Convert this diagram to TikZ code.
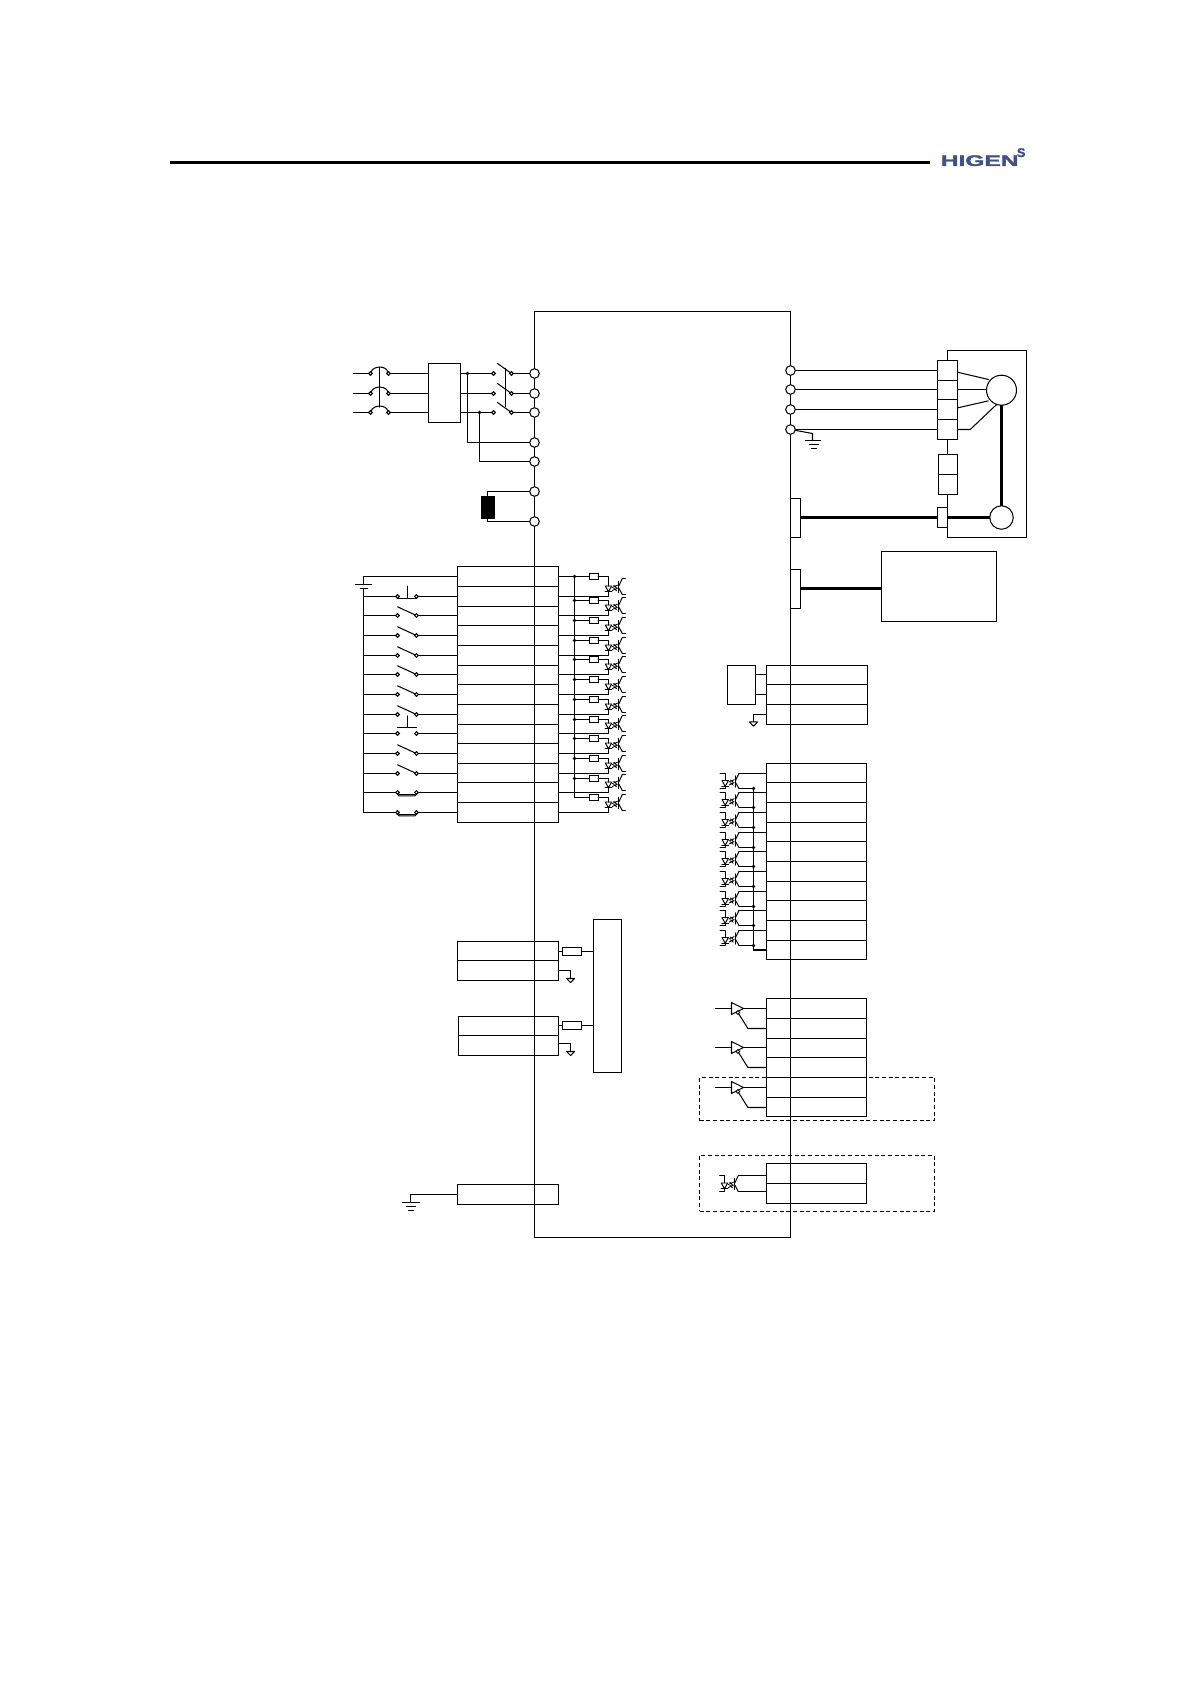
\documentclass[tikz,border=0pt]{standalone}
\usepackage{fontspec}
\setmainfont{Liberation Sans}
\newfontfamily\logofont[FakeBold=1.6]{Liberation Sans}
\definecolor{logoblue}{HTML}{3E5288}
\tikzset{
  wire/.style={line width=0.78pt,line cap=round,line join=round},
  fat/.style={line width=2.3pt},
  cellbox/.style={draw,line width=0.78pt,inner sep=0pt,outer sep=0pt,rectangle},
  term/.style={draw,fill=white,circle,line width=0.78pt,inner sep=0pt,outer sep=0pt,minimum size=7.2pt},
  contact/.style={draw,fill=white,circle,line width=0.7pt,inner sep=0pt,outer sep=0pt,minimum size=2.8pt},
  jdot/.style={fill=black,circle,inner sep=0pt,outer sep=0pt,minimum size=2.7pt},
  res/.style={draw,fill=white,rectangle,line width=0.78pt,inner sep=0pt,outer sep=0pt,minimum width=6.5pt,minimum height=4.5pt},
  lres/.style={draw,fill=white,rectangle,line width=0.78pt,inner sep=0pt,outer sep=0pt,minimum width=14.4pt,minimum height=5.6pt},
  dashbox/.style={draw,dashed,dash pattern=on 3pt off 2pt,line width=0.7pt,inner sep=0pt,outer sep=0pt,rectangle},
}
% [options]{name}{x1}{y1}{x2}{y2}
\newcommand\cell[6][]{%
  \pgfmathsetmacro\cw{(#5-#3)*0.75}%
  \pgfmathsetmacro\ch{(#6-#4)*0.75}%
  \pgfmathsetmacro\cx{(#3+#5)/2}%
  \pgfmathsetmacro\cy{(#4+#6)/2}%
  \node[cellbox,minimum width=\cw pt,minimum height=\ch pt,#1] (#2) at (\cx,\cy) {};}
% [options]{prefix}{x1}{x2}{first y}{list of lower edges}
\newcommand\stackcells[6][]{%
  \foreach \yb [remember=\yb as \ya (initially #5),count=\nn] in {#6} {%
    \cell[#1]{#2\nn}{#3}{\ya}{#4}{\yb}}}
% optocoupler: {name}{LED x}{centre y}{half height}
\newcommand\opto[4]{%
  \begin{scope}[shift={(#2,#3)}]
    \coordinate (#1-a) at (0,-0.5);
    \coordinate (#1-k) at (0,5.3);
    \coordinate (#1-c) at (13.8,-#4);
    \coordinate (#1-e) at (13.8,#4);
    \draw[wire,line width=0.72pt] (-3.2,-0.5) -- (3.2,-0.5) -- (0,5.3) -- cycle;
    \draw[wire,line width=0.72pt] (-3.4,5.3) -- (3.4,5.3);
    \draw[wire,line width=0.62pt] (3.9,1) -- (9,-1.4) (3.9,4) -- (9,1.6) (5.2,-1.2) -- (8,1.4) (5.2,1.8) -- (8,4.2);
    \draw[wire,line width=0.85pt] (10.3,-5) -- (10.3,6);
    \draw[wire,line width=0.72pt] (10.3,-0.5) -- (#1-c) (10.3,1.5) -- (#1-e);
  \end{scope}}
% buffer amplifier: {name}{x}{y}
\newcommand\amp[3]{%
  \begin{scope}[shift={(#2,#3)}]
    \coordinate (#1-in) at (0,0);
    \coordinate (#1-out) at (12,0);
    \coordinate (#1-src) at (-16,0);
    \coordinate (#1-ref) at (6.4,4);
    \coordinate (#1-bend) at (16.4,20);
    \draw[wire,fill=white] (0,-6) -- (12,0) -- (0,6) -- cycle;
  \end{scope}}
\begin{document}
\begin{tikzpicture}[x=0.75pt,y=-0.75pt]
\useasboundingbox (0,0) rectangle (1190,1684);
\fill[white] (0,0) rectangle (1190,1684);
\begin{scope}[shift={(0.2,0.2)}]
% header
\coordinate (ruleA) at (170,162.3);
\coordinate (ruleB) at (930,162.3);
\draw[line width=2.2pt] (ruleA) -- (ruleB);
\node[text=logoblue,font=\bfseries\logofont\fontsize{11.5}{12}\selectfont,inner sep=0pt] (logo) at (979.5,160.5) {\scalebox{1.6}[1]{HIGEN}};
\node[text=logoblue,font=\bfseries\logofont\fontsize{9.5}{10}\selectfont,inner sep=0pt] (logos) at (1021,152.5) {S};
% inverter outline
\cell{main}{534.3}{311.3}{790.3}{1237.3}
% ---- mains input ----
\cell{filter}{428.3}{363.3}{460.3}{422.3}
\foreach \n/\y in {1/373.3,2/393.3,3/412.3}{
  \coordinate (in\n) at (353.3,\y);
  \node[term] (TR\n) at (534.3,\y) {};
  \coordinate (FL\n) at (428.3,\y);
  \coordinate (FR\n) at (460.3,\y);
  \coordinate (ms\n) at (497.3,\y-10);
  \draw[wire] (in\n) -- ++(17,0);
  \node[contact] (BA\n) at (370.3,\y) {};
  \node[contact] (BB\n) at (388.3,\y) {};
  \node[contact] (MA\n) at (493.3,\y) {};
  \node[contact] (MB\n) at (511.3,\y) {};
  \draw[wire] (BB\n) -- (FL\n) (FR\n) -- (MA\n) (MB\n) -- (TR\n);
  \draw[wire] (BA\n) .. controls (373.5,\y-8) and (385.5,\y-8) .. (BB\n);
  \draw[wire] (ms\n) -- (MB\n);
}
\draw[wire] (379.3,367) -- (379.3,407);
\draw[wire] (505.3,368) -- (505.3,406.3);
\node[term] (TS) at (534.3,442.3) {};
\node[term] (TT) at (534.3,461.3) {};
\node[jdot] (ja) at (467.3,373.3) {};
\node[jdot] (jb) at (479.3,412.3) {};
\draw[wire] (ja) |- (TS);
\draw[wire] (jb) |- (TT);
% ---- DC reactor ----
\node[term] (TP) at (534.3,491.3) {};
\node[term] (TN) at (534.3,521.3) {};
\node[draw,fill=black,rectangle,inner sep=0pt,minimum width=9.8pt,minimum height=16.2pt] (reactor) at (487.3,506.8) {};
\draw[wire] (TP) -| (reactor.north);
\draw[wire] (TN) -| (reactor.south);
% ---- motor ----
\cell{motorbox}{947.3}{350.3}{1026.3}{537.3}
\stackcells[fill=white]{MS}{937.3}{957.3}{360.3}{380.3,399.3,419.3,439.3}
\stackcells[fill=white]{TH}{938.3}{957.3}{454.3}{474.3,494.3}
\cell[fill=white]{encT}{937.3}{507.3}{947.3}{527.3}
\node[draw,circle,fill=white,line width=0.78pt,inner sep=0pt,outer sep=0pt,minimum size=22.5pt] (motor) at (1001.3,390) {};
\node[draw,circle,fill=white,line width=0.78pt,inner sep=0pt,outer sep=0pt,minimum size=17.6pt] (encoder) at (1001.3,517.3) {};
\foreach \n/\y in {1/370.3,2/389.3,3/409.3,4/429.3}{
  \node[term] (TU\n) at (790.3,\y) {};
  \coordinate (mi\n) at (937.3,\y);
  \draw[wire] (TU\n) -- (mi\n);
}
\draw[wire] (957.3,372) -- (988.3,379.3);
\draw[wire] (957.3,389.3) -- (986.7,389.3);
\draw[wire] (957.3,407.7) -- (988,400.7);
\draw[wire] (957.3,429.3) -- (970,429.3) -- (996.7,404);
\draw[fat] (motor.south) -- (encoder.north);
% earth at U-terminal
\coordinate (ge) at (812.3,440);
\draw[wire] (TU4) -- (812.3,433.3) -- (ge);
\draw[wire] (805.3,440) -- (820.3,440) (809.3,444.3) -- (818.3,444.3) (811.3,448.3) -- (816.3,448.3);
% encoder and keypad connectors
\cell{conA}{790.3}{498.3}{800.3}{537.3}
\cell{conB}{790.3}{569.3}{800.3}{608.3}
\cell{keypad}{881.3}{551.3}{996.3}{621.3}
\coordinate (kp) at (881.3,588.3);
\draw[fat] (conA.east |- encT.west) -- (encT.west);
\draw[fat] (encT.east) -- (encoder.west);
\draw[fat] (conB.east |- kp) -- (kp);
% ---- digital inputs ----
\stackcells{L}{457.3}{558.3}{566.3}{586.3,606.3,625.3,645.3,665.3,684.3,704.3,724.3,743.3,763.3,782.3,802.3,822.3}
\coordinate (batT) at (363.3,584.3);
\coordinate (batB) at (363.3,588.3);
\draw[wire] (L1.west) -| (batT);
\draw[wire] (355.3,584.3) -- (371.3,584.3) (360.3,588.3) -- (367.3,588.3);
\draw[wire] (batB) -- (363.3,812.3);
\foreach \k/\y in {2/596.3,3/615.3,4/635.3,5/655.3,6/674.3,7/694.3,8/714.3,9/733.3,10/753.3,11/773.3,12/792.3,13/812.3}{
  \coordinate (bus\k) at (363.3,\y);
  \node[contact] (SA\k) at (397.3,\y) {};
  \node[contact] (SB\k) at (416.3,\y) {};
  \draw[wire] (bus\k) -- (SA\k) (SB\k) -- (SB\k -| L\k.west);
}
\foreach \k/\y in {3/615.3,4/635.3,5/655.3,6/674.3,7/694.3,8/714.3,10/753.3,11/773.3}{
  \draw[wire] (397.3,\y-8.7) -- (SB\k);
}
\draw[wire] (397.3,598.3) -- (416.3,598.3) (407.3,598.3) -- (407.3,586);
\draw[wire] (397.3,727.3) -- (416.3,727.3) (407.3,727.3) -- (407.3,715.7);
\foreach \y in {792.3,812.3}{
  \draw[wire] (397.3,\y+1) -- (398.8,\y+3.4) -- (414.8,\y+3.4) -- (416.3,\y+1);
  \draw[wire,line width=0.5pt] (399,\y+2) -- (414.6,\y+2);
}
% input optocouplers
\foreach \i/\r/\y in {1/576.3/596.3,2/600.3/615.3,3/620.3/635.3,4/640.3/655.3,5/659.3/674.3,6/679.3/694.3,7/699.3/714.3,8/719.3/733.3,9/738.3/753.3,10/758.3/773.3,11/778.3/792.3,12/797.3/812.3}{
  \pgfmathtruncatemacro\k{\i+1}
  \pgfmathsetmacro\oy{\y-10}
  \opto{OL\i}{608.3}{\oy}{8}
  \coordinate (busR\i) at (574.3,\r);
  \node[res] (R\i) at (593.6,\r) {};
  \draw[wire] (busR\i) -- (R\i);
  \draw[wire] (R\i) -| (OL\i-a);
  \draw[wire] (OL\i-k) |- (L\k.east |- bus\k);
  \draw[wire] (OL\i-c) -- ++(3,0) (OL\i-e) -- ++(3,0);
}
\draw[wire] (L1.east) -- (busR1);
\draw[wire] (busR1) -- (busR12);
\foreach \i in {1,...,11}{\node[jdot] at (busR\i) {};}
% ---- analog inputs ----
\stackcells{E}{457.3}{558.3}{941.3}{960.3,980.3}
\stackcells{F}{458.3}{558.3}{1016.3}{1035.3,1055.3}
\cell{cpu}{593.3}{919.3}{621.3}{1072.3}
\foreach \p/\yr/\yg in {E/951.3/970.3,F/1025.3/1043.3}{
  \node[lres] (Z\p) at (572,\yr) {};
  \coordinate (Y\p) at (593.3,\yr);
  \coordinate (Wa\p) at (558.3,\yg);
  \coordinate (Wb\p) at (570.3,\yg+8);
  \draw[wire] (558.3,\yr) -- (Z\p) (Z\p) -- (Y\p);
  \draw[wire] (Wa\p) -| (Wb\p);
  \draw[wire] (566.3,\yg+8) -- (574.3,\yg+8) -- (570.3,\yg+12) -- cycle;
}
% ---- safety earth ----
\cell{G}{457.3}{1184.3}{558.3}{1204.3}
\coordinate (gg) at (410.3,1202.3);
\draw[wire] (G.west) -| (gg);
\draw[wire] (402.3,1202.3) -- (419.3,1202.3) (406.3,1206.3) -- (415.3,1206.3) (408.3,1210.3) -- (413.3,1210.3);
% ---- analog connector box ----
\stackcells{A}{766.3}{867.3}{665.3}{684.3,704.3,724.3}
\cell{sens}{727.3}{665.3}{755.3}{704.3}
\coordinate (sa) at (755.3,674.3);
\coordinate (sb) at (755.3,694.3);
\draw[wire] (sa) -- (sa -| A1.west);
\draw[wire] (sb) -- (sb -| A2.west);
\coordinate (ag) at (753.3,721.7);
\draw[wire] (A3.west) -| (ag);
\draw[wire] (749.3,721.7) -- (757.3,721.7) -- (753.3,726) -- cycle;
% ---- digital outputs ----
\stackcells{B}{766.3}{866.3}{763.3}{782.3,802.3,822.3,841.3,861.3,881.3,900.3,920.3,940.3,959.3}
\foreach \i/\y in {1/773.3,2/792.3,3/812.3,4/832.3,5/851.3,6/871.3,7/891.3,8/910.3,9/930.3}{
  \pgfmathsetmacro\oy{\y+7.5}
  \pgfmathsetmacro\dy{\y+15}
  \opto{OR\i}{725}{\oy}{7.5}
  \node[jdot] (BD\i) at (753.3,\dy) {};
  \draw[wire] (OR\i-c) -- (OR\i-c -| B\i.west);
  \draw[wire] (OR\i-e) -- (BD\i);
  \draw[wire,line width=0.7pt] (720,\y) -- (725,\y) -- (OR\i-a);
  \draw[wire,line width=0.7pt] (720,\dy) -- (725,\dy) -- (OR\i-k);
}
\draw[wire] (BD1) -- (BD9);
\draw[wire] (B10.west) -| (BD9);
% ---- analog outputs ----
\stackcells{C}{766.3}{866.3}{998.3}{1018.3,1038.3,1057.3,1077.3,1097.3,1116.3}
\foreach \n/\a/\b/\y in {1/1/2/1008.3,2/3/4/1047.3,3/5/6/1087.3}{
  \amp{AO\n}{731.3}{\y}
  \draw[wire] (AO\n-src) -- (AO\n-in);
  \draw[wire] (AO\n-out) -- (AO\n-out -| C\a.west);
  \node[contact] (AR\n) at (AO\n-ref) {};
  \draw[wire] (AR\n) -- (AO\n-bend) -- (AO\n-bend -| C\b.west);
}
\node[dashbox,minimum width=176.25pt,minimum height=32.25pt] (dashA) at (816.8,1098.8) {};
% ---- relay output ----
\stackcells{D}{766.3}{866.3}{1163.3}{1183.3,1203.3}
\opto{OD}{724.3}{1183.3}{8}
\coordinate (DCw) at (766.3,1175.3);
\coordinate (DEw) at (766.3,1191.3);
\draw[wire] (OD-c) -- (DCw);
\draw[wire] (OD-e) -- (DEw);
\draw[wire,line width=0.7pt] (719.3,1175.3) -- (724.3,1175.3) -- (OD-a);
\draw[wire,line width=0.7pt] (719.3,1191.3) -- (724.3,1191.3) -- (OD-k);
\node[dashbox,minimum width=176.25pt,minimum height=41.8pt] (dashB) at (816.8,1183.2) {};
\end{scope}
\end{tikzpicture}
\end{document}
